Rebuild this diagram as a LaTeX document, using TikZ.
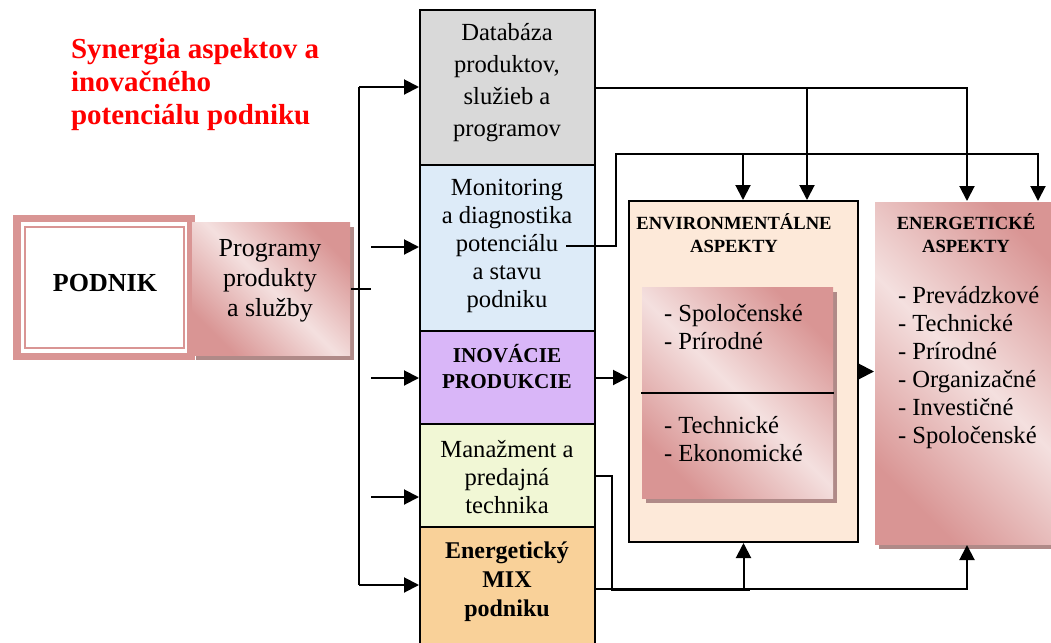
\documentclass[tikz,border=0pt]{standalone}
\usepackage{fontspec}
\setmainfont{Liberation Serif}
\usetikzlibrary{arrows.meta,shadows}
\definecolor{podred}{HTML}{FF0000}
\definecolor{pinkdk}{HTML}{D99594}
\definecolor{pinklt}{HTML}{F4E0DF}
\definecolor{shadowc}{HTML}{B08A88}
\definecolor{dbgray}{HTML}{D9D9D9}
\definecolor{monblue}{HTML}{DDEBF8}
\definecolor{inopurple}{HTML}{D9B6F8}
\definecolor{manyellow}{HTML}{F1F7D5}
\definecolor{mixorange}{HTML}{F9D199}
\definecolor{envpeach}{HTML}{FDE9D9}

\begin{document}
\begin{tikzpicture}[x=0.5pt,y=-0.5pt,line width=1pt,
  arr/.style={-{Triangle[length=7.5pt,width=7.5pt]}},
  colbox/.style={draw,line width=1pt,minimum width=87.5pt,inner sep=0pt},
  pinkshade/.style={top color=pinkdk,bottom color=pinkdk,middle color=pinklt,shading angle=-45,inner sep=0pt},
  shadowed/.style={drop shadow={shadow xshift=2pt,shadow yshift=-2.5pt,fill=shadowc,opacity=1}},
  txt/.style={align=center,font=\fontsize{12.3}{14}\selectfont,inner sep=0pt},
  lst/.style={anchor=west,align=left,font=\fontsize{12.3}{14}\selectfont,inner sep=0pt},
  tit/.style={align=center,font=\fontsize{9.3}{11.5}\selectfont\bfseries,inner sep=0pt}]
  \useasboundingbox (0,0) rectangle (1051,643);
  \clip (0,0) rectangle (1051,643);
  % title
  \node[anchor=west,align=left,text=podred,font=\fontsize{14.5}{16.5}\selectfont\bfseries,inner sep=0pt] (title) at (70,85) {Synergia aspektov a\\inovačného\\potenciálu podniku};
  % podnik
  \fill[pinkdk] (13,215) rectangle (195,360);
  \fill[white] (21,222) rectangle (187,353);
  \draw[pinkdk,line width=1.3pt] (25,227) rectangle (184,348);
  \node[font=\fontsize{13}{15}\selectfont\bfseries] (podnik) at (105,283) {PODNIK};
  \node[pinkshade,shadowed,minimum width=79pt,minimum height=66.5pt] (prog) at (271,288.5) {};
  \node[txt,font=\fontsize{13}{15}\selectfont] (progtxt) at (270,281) {Programy\\produkty\\a služby};
  % column
  \node[colbox,fill=dbgray,minimum height=77.5pt] (db) at (507.5,87.5) {};
  \node[colbox,fill=monblue,minimum height=83pt] (mon) at (507.5,248) {};
  \node[colbox,fill=inopurple,minimum height=46.5pt] (ino) at (507.5,377.5) {};
  \node[colbox,fill=manyellow,minimum height=51.5pt] (manaz) at (507.5,475.5) {};
  \node[colbox,fill=mixorange,minimum height=61.5pt] (mix) at (507.5,588.5) {};
  \node[txt,font=\fontsize{12.3}{16}\selectfont] (dbtxt) at (507,83) {Databáza\\produktov,\\služieb a\\programov};
  \node[txt] (montxt) at (507,246) {Monitoring\\a diagnostika\\potenciálu\\a stavu\\podniku};
  \node[txt,font=\fontsize{10.6}{13}\selectfont\bfseries] (inotxt) at (507,367) {INOVÁCIE\\PRODUKCIE};
  \node[txt] (mantxt) at (507,477) {Manažment a\\predajná\\technika};
  \node[txt,font=\fontsize{12}{14.5}\selectfont\bfseries] (mixtxt) at (507,582) {Energetický\\MIX\\podniku};
  % aspects
  \node[draw,fill=envpeach,minimum width=114.5pt,minimum height=170.5pt] (env) at (743.5,371.5) {};
  \node[tit] (envtit) at (734,233.5) {ENVIRONMENTÁLNE\\ASPEKTY};
  \node[pinkshade,shadowed,minimum width=95.5pt,minimum height=105.5pt] (envin) at (737.5,392.5) {};
  \draw (envin.west) -- (envin.east);
  \node[lst] (envup) at (663,327) {- Spoločenské\\- Prírodné};
  \node[lst] (envlo) at (663,439) {- Technické\\- Ekonomické};
  \node[pinkshade,shadowed,minimum width=98pt,minimum height=171pt,anchor=north west] (energ) at (874,201) {};
  \node[tit] (energtit) at (966,233.5) {ENERGETICKÉ\\ASPEKTY};
  \node[lst] (energlst) at (897,367.5) {- Prevádzkové\\- Technické\\- Prírodné\\- Organizačné\\- Investičné\\- Spoločenské};
  % connectors left
  \coordinate (spine) at (359,87);
  \coordinate (sb) at (359,585);
  \draw (spine) -- (sb);
  \draw[arr] (spine) -- (spine -| db.west);
  \draw[arr] (sb) -- (sb -| mix.west);
  \coordinate (tick) at (371,288.5);
  \draw (prog.east) -- (tick);
  \foreach \n/\y in {mon/247,ino/378,manaz/497}{
    \coordinate (s\n) at (371,\y);
    \draw[arr] (s\n) -- (s\n -| \n.west);}
  % connectors right
  \coordinate (e1) at (967,87);
  \coordinate (e2) at (1038,154);
  \coordinate (d1) at (807,87);
  \coordinate (d2) at (743,154);
  \coordinate (potend) at (566,246);
  \coordinate (m1) at (616,154);
  \draw[arr] (db.east) -| (e1 |- energ.north);
  \draw[arr] (d1) -- (d1 |- env.north);
  \draw[arr] (potend) -| (m1) -| (e2 |- energ.north);
  \draw[arr] (d2) -- (d2 |- env.north);
  \draw[arr] (ino.east) -- (ino.east -| env.west);
  \draw[arr] (env.east) -- (env.east -| energ.west);
  \coordinate (bl) at (612,590);
  \coordinate (br) at (750,590);
  \draw (manaz.east) -| (bl) -- (br);
  \draw[arr] (bl -| env.south) -- (env.south);
  \draw[arr] (mix.east) -| (e1 |- energ.south);
\end{tikzpicture}
\end{document}
